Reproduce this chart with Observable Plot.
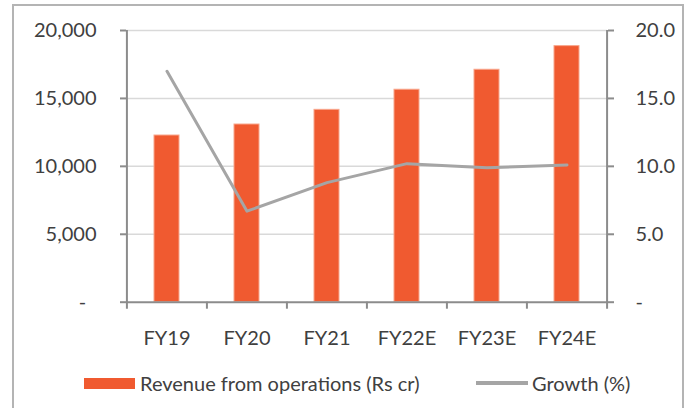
<!DOCTYPE html>
<html>
<head>
<meta charset="utf-8">
<script src="https://cdn.jsdelivr.net/npm/d3@7"></script>
<script src="https://cdn.jsdelivr.net/npm/@observablehq/plot@0.6"></script>
<style>
  html, body { margin: 0; padding: 0; background: #fff; }
  #wrap { position: relative; width: 694px; height: 408px; overflow: hidden; font-family: Lato, sans-serif; color: #404040; }
  #frame { position: absolute; left: 12px; top: 4px; width: 672px; height: 420px; border: 2px solid #b4b4b4; box-sizing: border-box; }
  #chart { position: absolute; left: 0; top: 0; }
  .leg { position: absolute; font-size: 20px; line-height: 22px; white-space: nowrap; }
  .sw-bar { position: absolute; background: #f05a30; }
  .sw-line { position: absolute; background: #a5a5a5; }
</style>
</head>
<body>
<div id="wrap">
  <div id="frame"></div>
  <div id="chart"></div>
  <div class="sw-bar" style="left:84px; top:378px; width:51px; height:11px;"></div>
  <div class="leg" style="left:140px; top:372px;">Revenue from operations (Rs cr)</div>
  <div class="sw-line" style="left:476px; top:381px; width:52px; height:4px;"></div>
  <div class="leg" style="left:532px; top:372px;">Growth (%)</div>
</div>
<script>
const categories = ["FY19", "FY20", "FY21", "FY22E", "FY23E", "FY24E"];
const revenue = [12270, 13080, 14160, 15640, 17110, 18850];
const growth = [17.0, 6.7, 8.8, 10.2, 9.9, 10.1];
const leftTicks = [0, 5000, 10000, 15000, 20000];
const rightTicks = [0, 5, 10, 15, 20];

const data = categories.map((c, i) => ({cat: c, revenue: revenue[i], growth: growth[i]}));
const RATIO = 1000; // right axis (growth) mapped onto left scale: 20 -> 20000

const W = 694, H = 360;
const mL = 126, mR = 87, mT = 30, mB = 58.3;
const step = (W - mL - mR) / categories.length;
const axisColor = "#8c8c8c";

const chart = Plot.plot({
  width: W,
  height: H,
  marginLeft: mL,
  marginRight: mR,
  marginTop: mT,
  marginBottom: mB,
  style: {fontFamily: "Lato, sans-serif", fontSize: "20px", color: "#404040", background: "transparent"},
  x: {domain: categories, paddingInner: 0.69, paddingOuter: 0.345},
  y: {domain: [0, 20000]},
  marks: [
    Plot.ruleY(leftTicks.filter(d => d > 0), {stroke: "#d9d9d9", strokeWidth: 1.5}),
    Plot.barY(data, {x: "cat", y: "revenue", fill: "#f05a30", stroke: "#f8a68c", strokeWidth: 1}),
    Plot.lineY(data, {x: "cat", y: d => d.growth * RATIO, stroke: "#a5a5a5", strokeWidth: 3, curve: "linear"}),
    Plot.ruleY([0], {stroke: axisColor, strokeWidth: 2}),
    // left & right vertical axis lines
    Plot.ruleX([categories[0]], {x: d => d, y1: 20000, y2: 0, dx: -step / 2, insetBottom: -7, stroke: axisColor, strokeWidth: 2}),
    Plot.ruleX([categories[categories.length - 1]], {x: d => d, y1: 20000, y2: 0, dx: step / 2, insetBottom: -7, stroke: axisColor, strokeWidth: 2}),
    // category boundary ticks
    Plot.ruleX(categories.slice(1), {x: d => d, y1: 0, y2: 0, dx: -step / 2, insetBottom: -7, stroke: axisColor, strokeWidth: 2}),
    Plot.axisY({ticks: leftTicks, anchor: "left", tickSize: 6, tickPadding: 24, label: null,
      tickFormat: d => d === 0 ? "-\u00a0\u00a0" : d3.format(",")(d),
      stroke: axisColor, strokeWidth: 2, fill: "#404040"}),
    Plot.axisY({ticks: rightTicks.map(d => d * RATIO), anchor: "right", tickSize: 6, tickPadding: 22, label: null,
      tickFormat: d => d === 0 ? "-" : (d / RATIO).toFixed(1),
      stroke: axisColor, strokeWidth: 2, fill: "#404040"}),
    Plot.axisX({tickSize: 0, tickPadding: 29, label: null, fill: "#404040"})
  ]
});
document.getElementById("chart").appendChild(chart);
</script>
</body>
</html>
